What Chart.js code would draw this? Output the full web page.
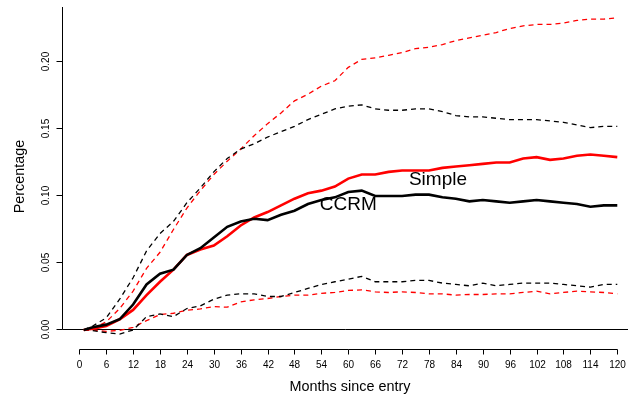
<!DOCTYPE html>
<html>
<head>
<meta charset="utf-8">
<title>Cumulative incidence: Simple vs CCRM</title>
<script src="https://cdn.jsdelivr.net/npm/chart.js@4.4.0/dist/chart.umd.min.js"></script>
<style>
  html, body { margin: 0; padding: 0; background: #fff; }
  #wrap { width: 640px; height: 399px; position: relative; }
</style>
</head>
<body>
<div id="wrap"><canvas id="cif"></canvas></div>
<script>
// months since entry at which the curves are sampled
const months = [1, 3, 6, 9, 12, 15, 18, 21, 24, 27, 30, 33, 36, 39, 42, 45, 48, 51, 54, 57, 60,
  63, 66, 69, 72, 75, 78, 81, 84, 87, 90, 93, 96, 99, 102, 105, 108, 111, 114, 117, 120];

// Simple estimator with its confidence band
const simple = [0.000, 0.001, 0.003, 0.008, 0.015, 0.026, 0.036, 0.045, 0.056, 0.060, 0.063,
  0.070, 0.078, 0.084, 0.088, 0.093, 0.098, 0.102, 0.104, 0.107, 0.113,
  0.116, 0.116, 0.118, 0.119, 0.119, 0.119, 0.121, 0.122, 0.123, 0.124,
  0.125, 0.125, 0.128, 0.129, 0.127, 0.128, 0.130, 0.131, 0.130, 0.129];
const simpleUpper = [0.000, 0.001, 0.006, 0.016, 0.029, 0.046, 0.058, 0.075, 0.091, 0.104, 0.116,
  0.126, 0.135, 0.145, 0.154, 0.162, 0.171, 0.176, 0.182, 0.186, 0.196,
  0.202, 0.203, 0.205, 0.207, 0.210, 0.211, 0.213, 0.216, 0.218, 0.220,
  0.222, 0.225, 0.227, 0.228, 0.228, 0.229, 0.231, 0.232, 0.232, 0.233];
const simpleLower = [0.000, 0.000, -0.001, -0.0003, 0.002, 0.007, 0.0115, 0.0125, 0.0147, 0.0157, 0.0175,
  0.017, 0.021, 0.0225, 0.0235, 0.025, 0.026, 0.026, 0.0274, 0.028, 0.0295,
  0.030, 0.0285, 0.028, 0.0285, 0.028, 0.027, 0.027, 0.026, 0.0265, 0.0265,
  0.027, 0.027, 0.028, 0.029, 0.027, 0.028, 0.029, 0.0285, 0.028, 0.027];

// CCRM estimator with its confidence band
const ccrm = [0.000, 0.002, 0.004, 0.008, 0.019, 0.034, 0.042, 0.045, 0.056, 0.061, 0.069,
  0.077, 0.081, 0.083, 0.082, 0.086, 0.089, 0.094, 0.097, 0.099, 0.103,
  0.104, 0.100, 0.100, 0.100, 0.101, 0.101, 0.099, 0.098, 0.096, 0.097,
  0.096, 0.095, 0.096, 0.097, 0.096, 0.095, 0.094, 0.092, 0.093, 0.093];
const ccrmUpper = [0.000, 0.003, 0.009, 0.023, 0.039, 0.059, 0.072, 0.081, 0.095, 0.106, 0.118,
  0.128, 0.135, 0.139, 0.144, 0.148, 0.152, 0.157, 0.161, 0.165, 0.167,
  0.168, 0.165, 0.164, 0.164, 0.165, 0.165, 0.163, 0.160, 0.159, 0.159,
  0.158, 0.157, 0.157, 0.157, 0.156, 0.155, 0.153, 0.151, 0.152, 0.152];
const ccrmLower = [0.000, -0.0005, -0.002, -0.003, 0.000, 0.010, 0.012, 0.010, 0.016, 0.018, 0.023,
  0.026, 0.027, 0.027, 0.025, 0.025, 0.028, 0.031, 0.034, 0.036, 0.038,
  0.040, 0.036, 0.036, 0.036, 0.037, 0.037, 0.035, 0.034, 0.033, 0.035,
  0.033, 0.034, 0.035, 0.035, 0.035, 0.034, 0.033, 0.032, 0.034, 0.034];

// axis ticks
const xTicks = [0, 6, 12, 18, 24, 30, 36, 42, 48, 54, 60, 66, 72, 78, 84, 90, 96, 102, 108, 114, 120];
const yTicks = [0, 0.05, 0.10, 0.15, 0.20];
const yTickLabels = ['0.00', '0.05', '0.10', '0.15', '0.20'];

const FONT = '"Liberation Sans", Arial, Helvetica, sans-serif';

function pts(values) {
  return months.map((m, i) => ({ x: m, y: values[i] }));
}

function solid(label, values, color) {
  return { label, data: pts(values), borderColor: color, borderWidth: 2.6,
    pointRadius: 0, tension: 0, fill: false };
}

function dashed(label, values, color) {
  return { label, data: pts(values), borderColor: color, borderWidth: 1.3,
    borderDash: [5, 4], pointRadius: 0, tension: 0, fill: false };
}

// base-graphics style axes: L-shaped frame, detached x axis, rotated y labels
const baseAxes = {
  id: 'baseAxes',
  beforeDatasetsDraw(chart) {
    const { ctx, chartArea: a, scales: { x, y } } = chart;
    const y0 = Math.floor(y.getPixelForValue(0)) + 0.5;
    const xl = Math.round(a.left) - 0.5;
    ctx.save();
    ctx.strokeStyle = '#000';
    ctx.lineWidth = 1;

    ctx.beginPath();
    ctx.moveTo(xl, a.top);
    ctx.lineTo(xl, y0);
    ctx.lineTo(a.right, y0);
    ctx.stroke();

    // y ticks and labels
    ctx.font = '10px ' + FONT;
    ctx.fillStyle = '#000';
    ctx.textAlign = 'center';
    ctx.textBaseline = 'middle';
    yTicks.forEach((v, i) => {
      const py = Math.floor(y.getPixelForValue(v)) + 0.5;
      ctx.beginPath();
      ctx.moveTo(xl - 6, py);
      ctx.lineTo(xl, py);
      ctx.stroke();
      ctx.save();
      ctx.translate(xl - 16, py);
      ctx.rotate(-Math.PI / 2);
      ctx.fillText(yTickLabels[i], 0, 0);
      ctx.restore();
    });

    // x axis below the frame
    const xa = 349.5;
    const x0 = Math.round(x.getPixelForValue(xTicks[0])) + 0.5;
    const x1 = Math.round(x.getPixelForValue(xTicks[xTicks.length - 1])) + 0.5;
    ctx.beginPath();
    ctx.moveTo(x0, xa);
    ctx.lineTo(x1, xa);
    ctx.stroke();
    xTicks.forEach(v => {
      const px = Math.round(x.getPixelForValue(v)) + 0.5;
      ctx.beginPath();
      ctx.moveTo(px, xa);
      ctx.lineTo(px, xa + 5);
      ctx.stroke();
      ctx.fillText(String(v), px, 365);
    });

    // axis titles
    ctx.font = '14.4px ' + FONT;
    ctx.fillText('Months since entry', 350, 387);
    ctx.save();
    ctx.translate(20.5, 176.5);
    ctx.rotate(-Math.PI / 2);
    ctx.fillText('Percentage', 0, 0);
    ctx.restore();
    ctx.restore();
  },
  afterDatasetsDraw(chart) {
    const { ctx, scales: { x, y } } = chart;
    ctx.save();
    ctx.font = '19px ' + FONT;
    ctx.fillStyle = '#000';
    ctx.textAlign = 'center';
    ctx.textBaseline = 'middle';
    ctx.fillText('Simple', x.getPixelForValue(80), y.getPixelForValue(0.112));
    ctx.fillText('CCRM', x.getPixelForValue(60), y.getPixelForValue(0.0938));
    ctx.restore();
  }
};

new Chart(document.getElementById('cif'), {
  type: 'line',
  data: {
    datasets: [
      solid('CCRM', ccrm, '#000000'),
      solid('Simple', simple, '#ff0000'),
      dashed('CCRM upper', ccrmUpper, '#000000'),
      dashed('CCRM lower', ccrmLower, '#000000'),
      dashed('Simple upper', simpleUpper, '#ff0000'),
      dashed('Simple lower', simpleLower, '#ff0000')
    ]
  },
  options: {
    responsive: true,
    maintainAspectRatio: false,
    animation: false,
    devicePixelRatio: 1,
    layout: { padding: { left: 63, right: 12, top: 7, bottom: 63 } },
    plugins: { legend: { display: false }, tooltip: { enabled: false } },
    scales: {
      x: { type: 'linear', min: -3.636, max: 122.39, display: false },
      y: { type: 'linear', min: -0.00448, max: 0.24104, display: false }
    }
  },
  plugins: [baseAxes]
});
</script>
</body>
</html>
